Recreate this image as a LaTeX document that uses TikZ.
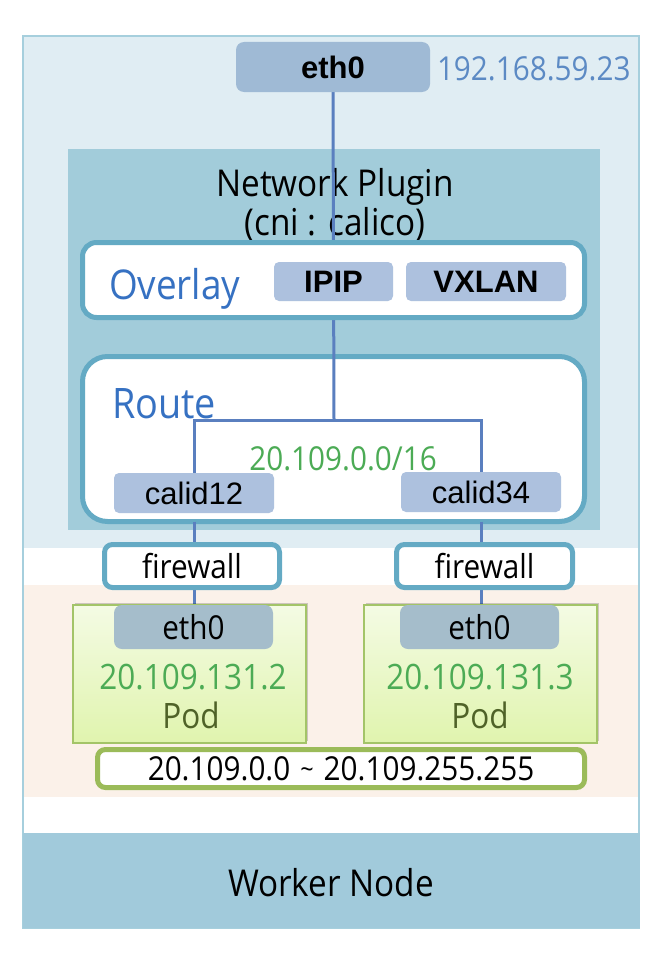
\documentclass[tikz,border=0pt]{standalone}
\usepackage{fontspec}
\setmainfont{Open Sans}[FakeStretch=0.9]
\newfontfamily\arialf{Liberation Sans}
\usetikzlibrary{shadows}
\definecolor{frameline}{HTML}{A6CFDD}
\definecolor{topfill}{HTML}{E0EDF3}
\definecolor{npfill}{HTML}{A2CCDA}
\definecolor{boxline}{HTML}{64AAC4}
\definecolor{conn}{HTML}{5A7FBF}
\definecolor{ethfill}{HTML}{9FBAD5}
\definecolor{lblfill}{HTML}{ADC1DE}
\definecolor{bluetext}{HTML}{3671C2}
\definecolor{iptext}{HTML}{5C8AC4}
\definecolor{greentext}{HTML}{4CAB55}
\definecolor{podline}{HTML}{A3C468}
\definecolor{rangeline}{HTML}{9BBB59}
\definecolor{podeth}{HTML}{A5BDCB}
\definecolor{podtext}{HTML}{4F6228}
\definecolor{beige}{HTML}{FBF1E9}
\definecolor{workerfill}{HTML}{A1CADB}
\definecolor{podtop}{HTML}{F4FBE4}
\definecolor{podbot}{HTML}{E0F4AE}
\pgfdeclarelayer{bg}
\pgfdeclarelayer{mid}
\pgfsetlayers{bg,mid,main}
\newcommand{\fs}[1]{\fontsize{#1}{#1}\selectfont}
\tikzset{
  geo/.style 2 args={minimum width=#1, minimum height=#2, inner sep=0pt, outer sep=0pt},
  whitebox/.style={draw=boxline, line width=5pt, fill=white},
  lblbox/.style={fill=lblfill, rounded corners=5pt, text=black},
  link/.style={draw=conn, line width=3pt},
  podbox/.style={draw=podline, line width=1.2pt, top color=podtop, bottom color=podbot,
    drop shadow={shadow xshift=2pt, shadow yshift=2pt, opacity=0.18, fill=black}},
  txt/.style={inner sep=0pt, outer sep=0pt},
}
\begin{document}
\begin{tikzpicture}[x=1pt, y=-1pt]
\useasboundingbox (0,0) rectangle (664,958);
\begin{pgfonlayer}{bg}
  \fill[topfill] (23,36) rectangle (639,548);
  \fill[beige] (23,585) rectangle (639,797);
  \draw[frameline, line width=1.5pt] (23,36) rectangle (639,928);
  \node[geo={617pt}{95pt}, fill=workerfill] (worker) at (331.5,880.5) {};
  \node[txt, font=\fs{37}] (workertext) at (331,883) {Worker Node};
  \node[geo={532pt}{381pt}, fill=npfill] (np) at (334,339.5) {};
  \node[txt, font=\fs{37}, align=center] (nptext) at (335,205) {Network Plugin\\[2pt](cni : calico)};
  \node[geo={502pt}{165pt}, whitebox, rounded corners=25pt] (route) at (333.5,439) {};
\end{pgfonlayer}

% top eth0
\node[geo={194pt}{50pt}, fill=ethfill, rounded corners=8pt, font=\arialf\bfseries\fs{31}] (eth0) at (333,67) {eth0};
\node[txt, anchor=base west, text=iptext, font=\fs{33}] (hostip) at (437,81) {192.168.59.23};

% overlay
\node[geo={502pt}{75pt}, whitebox, rounded corners=14pt] (overlay) at (333.5,280) {};
\node[txt, anchor=base west, text=bluetext, font=\fs{41}] (overlaytext) at (109,299) {Overlay};
\node[geo={119pt}{39pt}, lblbox, font=\arialf\bfseries\fs{31}] (ipip) at (333.5,281.5) {IPIP};
\node[geo={160pt}{39pt}, lblbox, font=\arialf\bfseries\fs{31}] (vxlan) at (486,281.5) {VXLAN};

% route
\node[txt, anchor=base west, text=bluetext, font=\fs{42}] (routetext) at (112,418) {Route};
\coordinate (J) at (334,420);
\node[geo={160pt}{40pt}, lblbox, font=\arialf\fs{31}] (c12) at (194,493) {calid12};
\node[geo={160pt}{40pt}, lblbox, font=\arialf\fs{31}] (c34) at (481,492) {calid34};
\node[txt, anchor=base, text=greentext, font=\fs{33}] (cidr) at (343,470) {20.109.0.0/16};

% firewalls
\node[geo={175pt}{43pt}, whitebox, rounded corners=8pt, font=\fs{33}] (fw1) at (192,566) {firewall};
\node[geo={176pt}{43pt}, whitebox, rounded corners=8pt, font=\fs{33}] (fw2) at (484.5,566) {firewall};

% pods
\node[geo={233pt}{138pt}, podbox] (pod1) at (189.5,674) {};
\node[geo={233pt}{138pt}, podbox] (pod2) at (480.5,674) {};
\node[geo={159pt}{44pt}, fill=podeth, rounded corners=8pt, font=\fs{33}] (pe1) at (193.5,627) {eth0};
\node[geo={159pt}{44pt}, fill=podeth, rounded corners=8pt, font=\fs{33}] (pe2) at (479.5,627) {eth0};
\node[txt, anchor=base, text=greentext, font=\fs{35}] (ip1) at (193,689) {20.109.131.2};
\node[txt, anchor=base, text=greentext, font=\fs{35}] (ip2) at (480,689) {20.109.131.3};
\node[txt, anchor=base, text=podtext, font=\fs{35}] (podl1) at (191,728) {Pod};
\node[txt, anchor=base, text=podtext, font=\fs{35}] (podl2) at (480,728) {Pod};

% range
\node[geo={487pt}{38pt}, draw=rangeline, line width=5pt, fill=white, rounded corners=8pt, font=\fs{33},
  drop shadow={shadow xshift=2pt, shadow yshift=2pt, opacity=0.15, fill=black}] (range) at (341,768.5) {20.109.0.0\hspace{10pt}\raisebox{2pt}{\fs{26}\char"7E}\hspace{10pt}20.109.255.255};

% connectors
\begin{pgfonlayer}{mid}
  \draw[link] (eth0.south) -- (J);
  \draw[link] (J) -| (c12.north);
  \draw[link] (J) -| (c34.north);
  \draw[link] (route.south -| c12) -- (fw1.north -| c12);
  \draw[link] (route.south -| c34) -- (fw2.north -| c34);
  \draw[link] (fw1.south -| c12) -- (pod1.north -| c12);
  \draw[link] (fw2.south -| c34) -- (pod2.north -| c34);
\end{pgfonlayer}
\end{tikzpicture}
\end{document}
